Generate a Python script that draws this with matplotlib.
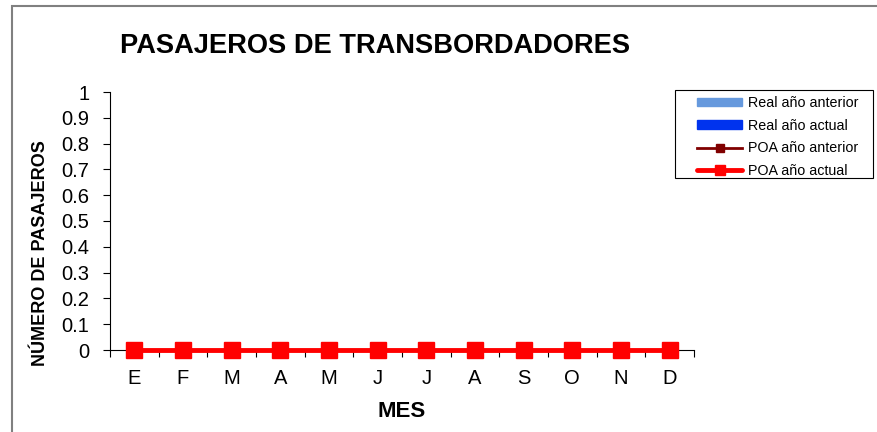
import numpy as np
import matplotlib.pyplot as plt
from matplotlib.patches import Rectangle
from matplotlib.lines import Line2D

plt.rcParams['font.family'] = ['Liberation Sans', 'DejaVu Sans']

# datos
meses = ['E', 'F', 'M', 'A', 'M', 'J', 'J', 'A', 'S', 'O', 'N', 'D']
real_anterior = [0, 0, 0, 0, 0, 0, 0, 0, 0, 0, 0, 0]
real_actual = [0, 0, 0, 0, 0, 0, 0, 0, 0, 0, 0, 0]
poa_anterior = [0, 0, 0, 0, 0, 0, 0, 0, 0, 0, 0, 0]
poa_actual = [0, 0, 0, 0, 0, 0, 0, 0, 0, 0, 0, 0]

fig = plt.figure(figsize=(8.77, 4.32), dpi=100)
ax = fig.add_axes([110 / 877, 82 / 432, 584 / 877, 258 / 432])

x = np.arange(len(meses))
w = 0.3
ax.bar(x - w / 2, real_anterior, w, color='#6699dd', label='Real año anterior')
ax.bar(x + w / 2, real_actual, w, color='#0033ee', label='Real año actual')
ax.plot(x, poa_anterior, color='#800000', lw=2, marker='s', ms=7, label='POA año anterior', clip_on=False)
ax.plot(x, poa_actual, color='#ff0000', lw=3.5, marker='s', ms=12, label='POA año actual', clip_on=False, zorder=5)

ax.set_xlim(-0.5, 11.5)
ax.set_ylim(0, 1)
ax.set_yticks(np.arange(0, 1.01, 0.1))
ax.set_yticklabels(['0', '0.1', '0.2', '0.3', '0.4', '0.5', '0.6', '0.7', '0.8', '0.9', '1'])
ax.set_xticks(x)
ax.set_xticklabels(meses)
ax.set_xticks(np.arange(-0.5, 12, 1), minor=True)
ax.tick_params(axis='x', which='major', length=0, labelsize=14.5, pad=14)
ax.tick_params(axis='x', which='minor', length=5, width=0.8, direction='out')
ax.tick_params(axis='y', length=5, width=0.8, labelsize=14.5, pad=10)
for s in ['top', 'right']:
    ax.spines[s].set_visible(False)
ax.spines['left'].set_linewidth(0.8)
ax.spines['bottom'].set_linewidth(0.8)

ax.set_xlabel('MES', fontsize=16, fontweight='bold')
ax.xaxis.set_label_coords(0.5, -(401 - 350) / 258)
ax.set_ylabel('NÚMERO DE PASAJEROS', fontsize=13, fontweight='bold')
ax.yaxis.set_label_coords(-(110 - 49) / 584, (350 - 253) / 258)
fig.text(120 / 877, 1 - 46 / 432, 'PASAJEROS DE TRANSBORDADORES', fontsize=19.6,
         fontweight='bold', va='center', ha='left')

handles = [
    Rectangle((0, 0), 1, 1, color='#6699dd'),
    Rectangle((0, 0), 1, 1, color='#0033ee'),
    Line2D([], [], color='#800000', lw=2, marker='s', ms=6),
    Line2D([], [], color='#ff0000', lw=3.5, marker='s', ms=7.5, solid_capstyle='round'),
]
labels = ['Real año anterior', 'Real año actual', 'POA año anterior', 'POA año actual']
leg = fig.legend(handles, labels, loc='upper left', bbox_to_anchor=(697 / 877, 1 - 96 / 432),
                 fontsize=10.3, frameon=False,
                 handlelength=3.15, handleheight=0.5, labelspacing=0.6, borderpad=0,
                 handletextpad=0.4, borderaxespad=0)

# marco de la leyenda
fig.patches.append(Rectangle((675 / 877, 1 - 178 / 432), 198 / 877, 88 / 432, transform=fig.transFigure,
                             fill=False, edgecolor='black', lw=0.8))

# marco del grafico
fig.patches.append(Rectangle((12 / 877, -0.1), 1.0, 1.1 - 6 / 432, transform=fig.transFigure,
                             fill=False, edgecolor='#808080', lw=1.5))

fig.savefig('out.png', dpi=100)
